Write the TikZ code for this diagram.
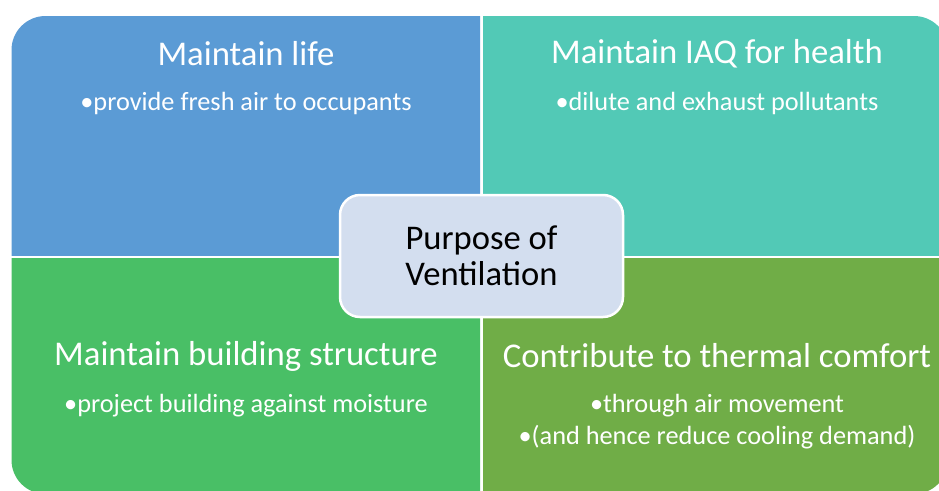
\documentclass[tikz,border=0pt]{standalone}
\usepackage{fontspec}
\setmainfont{Carlito}
\definecolor{lifeblue}{HTML}{5B9BD5}
\definecolor{iaqteal}{HTML}{52C9B6}
\definecolor{buildgreen}{HTML}{49BF66}
\definecolor{comfortgreen}{HTML}{70AD47}
\definecolor{purposefill}{HTML}{D3DEEF}

\begin{document}
\begin{tikzpicture}[x=1pt,y=-1pt,
        head/.style={text=white,font=\fontsize{34.7}{38}\selectfont},
        point/.style={text=white,font=\fontsize{26.3}{32}\selectfont,align=center}]
        \useasboundingbox (0,0) rectangle (939,490);
        % the four quarters, each cut out of one big rounded box
        \begin{scope}
            \clip (0,0) rectangle (480,255.5);
            \fill[lifeblue,rounded corners=34] (11.5,16) rectangle (948,494);
        \end{scope}
        \begin{scope}
            \clip (483,0) rectangle (939,255.5);
            \fill[iaqteal,rounded corners=34] (11.5,16) rectangle (948,494);
        \end{scope}
        \begin{scope}
            \clip (0,258.5) rectangle (480,490);
            \fill[buildgreen,rounded corners=34] (11.5,16) rectangle (948,494);
        \end{scope}
        \begin{scope}
            \clip (483,258.5) rectangle (939,490);
            \fill[comfortgreen,rounded corners=34] (11.5,16) rectangle (948,494);
        \end{scope}

        \node[head] (life) at (246,54) {Maintain life};
        \node[point] (lifeA) at (246,103) {\textbullet provide fresh air to occupants};
        \node[head] (iaq) at (717,54) {Maintain IAQ for health};
        \node[point] (iaqA) at (717,103) {\textbullet dilute and exhaust pollutants};
        \node[head] (build) at (246,356) {Maintain building structure};
        \node[point] (buildA) at (246,406) {\textbullet project building against moisture};
        \node[head] (comfort) at (717,356) {Contribute to thermal comfort};
        \node[point] (comfortA) at (717,422) {\textbullet through air movement\\\textbullet(and hence reduce cooling demand)};

        \node[draw=white,line width=2.5pt,fill=purposefill,rounded corners=20,
            minimum width=283,minimum height=122,align=center,
            font=\fontsize{34.6}{35.5}\selectfont] (purpose) at (481.5,256) {Purpose of\\Ventilation};
    \end{tikzpicture}
\end{document}
